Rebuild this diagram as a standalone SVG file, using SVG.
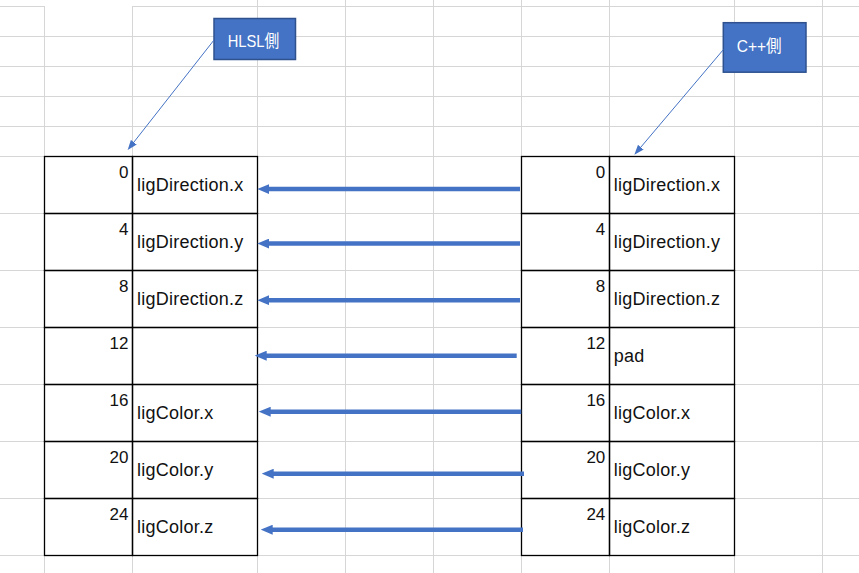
<svg xmlns="http://www.w3.org/2000/svg" width="859" height="573" viewBox="0 0 859 573">
  <defs>
    <style>
      .grid { stroke: #D6D6D6; stroke-width: 1; fill: none; }
      .cell { fill: none; stroke: #000; stroke-width: 1.3; }
      .num { font-family: "Liberation Sans", "Noto Sans CJK JP", sans-serif; font-size: 17px; fill: #111; text-anchor: end; }
      .lbl { font-family: "Liberation Sans", "Noto Sans CJK JP", sans-serif; font-size: 18px; fill: #111; letter-spacing: 0.25px; }
      .box { fill: #4472C4; stroke: #2F528F; stroke-width: 1.5; }
      .boxtxt { font-family: "Liberation Sans", "Noto Sans CJK JP", sans-serif; font-size: 17px; fill: #FFFFFF; }
      .thick { stroke: #4472C4; stroke-width: 4.6; fill: none; marker-end: url(#bigArrow); }
      .thin { stroke: #4472C4; stroke-width: 1; fill: none; marker-end: url(#smallArrow); }
    </style>
    <marker id="bigArrow" markerUnits="userSpaceOnUse" markerWidth="12" markerHeight="10" refX="2" refY="5" orient="auto" viewBox="0 0 12 10">
      <path d="M0,0 L12,5 L0,10 z" fill="#4472C4"/>
    </marker>
    <marker id="smallArrow" markerUnits="userSpaceOnUse" markerWidth="10" markerHeight="8" refX="7" refY="4" orient="auto" viewBox="0 0 10 8">
      <path d="M0,0.3 L10,4 L0,7.7 z" fill="#4472C4"/>
    </marker>
  </defs>
  <rect x="0" y="0" width="859" height="573" fill="#FFFFFF"/>

  <g id="gridlines" class="grid">
    <path d="M0,6.5 H44.5 M132.5,6.5 H859"/>
    <path d="M0,36.5 H859 M0,66.5 H859 M0,96.5 H859 M0,126.5 H859 M0,156.5 H859"/>
    <path d="M0,213.5 H859 M0,270.5 H859 M0,327.5 H859 M0,384.5 H859 M0,441.5 H859 M0,498.5 H859 M0,555.5 H859"/>
    <path d="M44.5,6 V573 M132.5,6 V573 M257.5,0 V573 M345.5,0 V573 M433.5,0 V573 M521.5,0 V573 M609.5,0 V573 M734.5,0 V573 M822.5,0 V573"/>
  </g>

  <g id="hlsl-table">
    <g id="hlsl-row-0">
      <rect class="cell" x="44.5" y="156.5" width="88" height="57"/>
      <rect class="cell" x="132.5" y="156.5" width="125" height="57"/>
      <text class="num" x="128.5" y="177.7">0</text>
      <text class="lbl" x="137" y="190.6">ligDirection.x</text>
    </g>
    <g id="hlsl-row-4">
      <rect class="cell" x="44.5" y="213.5" width="88" height="57"/>
      <rect class="cell" x="132.5" y="213.5" width="125" height="57"/>
      <text class="num" x="128.5" y="234.7">4</text>
      <text class="lbl" x="137" y="247.6">ligDirection.y</text>
    </g>
    <g id="hlsl-row-8">
      <rect class="cell" x="44.5" y="270.5" width="88" height="57"/>
      <rect class="cell" x="132.5" y="270.5" width="125" height="57"/>
      <text class="num" x="128.5" y="291.7">8</text>
      <text class="lbl" x="137" y="304.6">ligDirection.z</text>
    </g>
    <g id="hlsl-row-12">
      <rect class="cell" x="44.5" y="327.5" width="88" height="57"/>
      <rect class="cell" x="132.5" y="327.5" width="125" height="57"/>
      <text class="num" x="128.5" y="348.7">12</text>
    </g>
    <g id="hlsl-row-16">
      <rect class="cell" x="44.5" y="384.5" width="88" height="57"/>
      <rect class="cell" x="132.5" y="384.5" width="125" height="57"/>
      <text class="num" x="128.5" y="405.7">16</text>
      <text class="lbl" x="137" y="418.6">ligColor.x</text>
    </g>
    <g id="hlsl-row-20">
      <rect class="cell" x="44.5" y="441.5" width="88" height="57"/>
      <rect class="cell" x="132.5" y="441.5" width="125" height="57"/>
      <text class="num" x="128.5" y="462.7">20</text>
      <text class="lbl" x="137" y="475.6">ligColor.y</text>
    </g>
    <g id="hlsl-row-24">
      <rect class="cell" x="44.5" y="498.5" width="88" height="57"/>
      <rect class="cell" x="132.5" y="498.5" width="125" height="57"/>
      <text class="num" x="128.5" y="519.7">24</text>
      <text class="lbl" x="137" y="532.6">ligColor.z</text>
    </g>
  </g>

  <g id="cpp-table">
    <g id="cpp-row-0">
      <rect class="cell" x="521.5" y="156.5" width="88" height="57"/>
      <rect class="cell" x="609.5" y="156.5" width="125" height="57"/>
      <text class="num" x="605.3" y="177.7">0</text>
      <text class="lbl" x="613.7" y="190.6">ligDirection.x</text>
    </g>
    <g id="cpp-row-4">
      <rect class="cell" x="521.5" y="213.5" width="88" height="57"/>
      <rect class="cell" x="609.5" y="213.5" width="125" height="57"/>
      <text class="num" x="605.3" y="234.7">4</text>
      <text class="lbl" x="613.7" y="247.6">ligDirection.y</text>
    </g>
    <g id="cpp-row-8">
      <rect class="cell" x="521.5" y="270.5" width="88" height="57"/>
      <rect class="cell" x="609.5" y="270.5" width="125" height="57"/>
      <text class="num" x="605.3" y="291.7">8</text>
      <text class="lbl" x="613.7" y="304.6">ligDirection.z</text>
    </g>
    <g id="cpp-row-12">
      <rect class="cell" x="521.5" y="327.5" width="88" height="57"/>
      <rect class="cell" x="609.5" y="327.5" width="125" height="57"/>
      <text class="num" x="605.3" y="348.7">12</text>
      <text class="lbl" x="613.7" y="361.6">pad</text>
    </g>
    <g id="cpp-row-16">
      <rect class="cell" x="521.5" y="384.5" width="88" height="57"/>
      <rect class="cell" x="609.5" y="384.5" width="125" height="57"/>
      <text class="num" x="605.3" y="405.7">16</text>
      <text class="lbl" x="613.7" y="418.6">ligColor.x</text>
    </g>
    <g id="cpp-row-20">
      <rect class="cell" x="521.5" y="441.5" width="88" height="57"/>
      <rect class="cell" x="609.5" y="441.5" width="125" height="57"/>
      <text class="num" x="605.3" y="462.7">20</text>
      <text class="lbl" x="613.7" y="475.6">ligColor.y</text>
    </g>
    <g id="cpp-row-24">
      <rect class="cell" x="521.5" y="498.5" width="88" height="57"/>
      <rect class="cell" x="609.5" y="498.5" width="125" height="57"/>
      <text class="num" x="605.3" y="519.7">24</text>
      <text class="lbl" x="613.7" y="532.6">ligColor.z</text>
    </g>
  </g>

  <g id="hlsl-label">
    <rect class="box" x="214" y="18.5" width="81.5" height="41"/>
    <text class="boxtxt" x="227.7" y="47.3" textLength="51.5" lengthAdjust="spacingAndGlyphs">HLSL側</text>
  </g>
  <g id="cpp-label">
    <rect class="box" x="723.3" y="22.7" width="82.7" height="49.5"/>
    <text class="boxtxt" x="736.7" y="51.7" textLength="45" lengthAdjust="spacingAndGlyphs">C++側</text>
  </g>

  <g id="connectors">
    <line class="thin" x1="214" y1="40" x2="129.5" y2="147.7"/>
    <line class="thin" x1="723.3" y1="49.7" x2="636.3" y2="152.5"/>
    <line class="thick" x1="520" y1="189" x2="267.3" y2="189"/>
    <line class="thick" x1="520" y1="243.5" x2="267.3" y2="243.5"/>
    <line class="thick" x1="520" y1="300.2" x2="267.3" y2="300.2"/>
    <line class="thick" x1="516.7" y1="355.7" x2="264.7" y2="355.7"/>
    <line class="thick" x1="521.3" y1="411.7" x2="268.7" y2="411.7"/>
    <line class="thick" x1="524" y1="473.7" x2="271.7" y2="473.7"/>
    <line class="thick" x1="523" y1="529.7" x2="270.7" y2="529.7"/>
  </g>
</svg>
